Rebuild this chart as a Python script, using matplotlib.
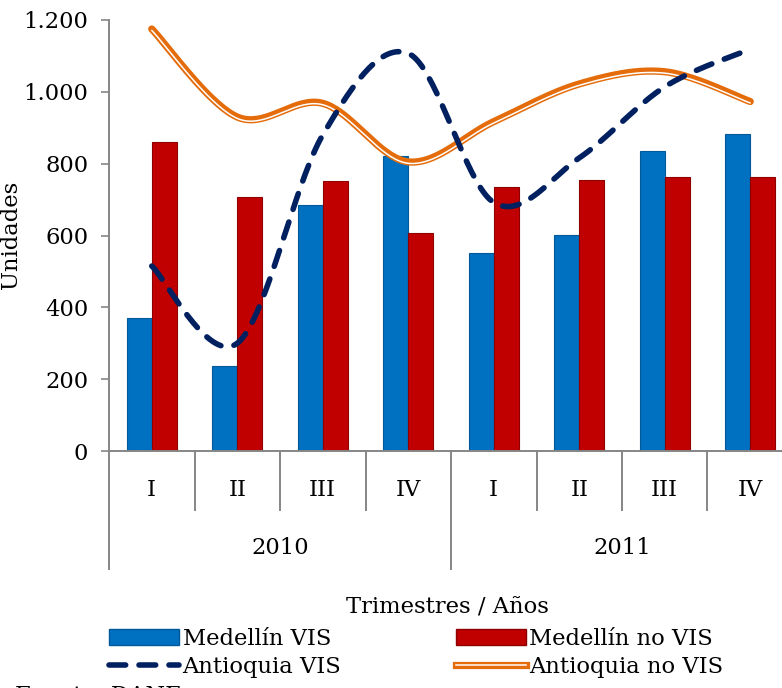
import numpy as np
import matplotlib
matplotlib.use("Agg")
import matplotlib.pyplot as plt
from matplotlib.lines import Line2D
from matplotlib.patches import Patch
from matplotlib.legend_handler import HandlerTuple
from matplotlib.ticker import FuncFormatter
import matplotlib.transforms as mtransforms

quarters = ["I", "II", "III", "IV", "I", "II", "III", "IV"]
years = ["2010", "2011"]
medellin_vis = [370, 237, 686, 822, 552, 602, 836, 882]
medellin_no_vis = [860, 708, 752, 608, 736, 754, 764, 764]
antioquia_vis = [515, 300, 880, 1107, 692, 816, 1014, 1119]
antioquia_no_vis = [1175, 930, 968, 805, 917, 1022, 1056, 973]

plt.rcParams['font.family'] = ['DejaVu Serif']
FS = 16.3

W, H = 782, 688
fig = plt.figure(figsize=(W / 100, H / 100), dpi=100)
left_px, right_px, bottom_px, top_px = 109, 793, 451, 20
ax = fig.add_axes([left_px / W, 1 - bottom_px / H, (right_px - left_px) / W, (bottom_px - top_px) / H])

x = np.arange(len(quarters))
bw = 0.29
blue = "#0070C0"
red = "#C00000"
ax.bar(x - bw / 2, medellin_vis, width=bw, color=blue, edgecolor="#005A9A", linewidth=0.8, zorder=2)
ax.bar(x + bw / 2, medellin_no_vis, width=bw, color=red, edgecolor="#8E0000", linewidth=0.8, zorder=2)


def smooth(xs, ys, n=40):
    P = np.column_stack([xs, ys]).astype(float)
    out = []
    m = len(P)
    for i in range(m - 1):
        p0 = P[i - 1] if i > 0 else P[i]
        p1 = P[i]
        p2 = P[i + 1]
        p3 = P[i + 2] if i + 2 < m else P[i + 1]
        c1 = p1 + (p2 - p0) / 6
        c2 = p2 - (p3 - p1) / 6
        t = np.linspace(0, 1, n)[:, None]
        seg = ((1 - t) ** 3) * p1 + 3 * ((1 - t) ** 2) * t * c1 + 3 * (1 - t) * t ** 2 * c2 + t ** 3 * p2
        out.append(seg if i == 0 else seg[1:])
    c = np.vstack(out)
    return c[:, 0], c[:, 1]


sx, sy = smooth(x, antioquia_no_vis)
orange = "#E46C0A"
ax.plot(sx, sy, color=orange, lw=5.2, solid_capstyle="round", zorder=3)
ax.plot(sx, sy - 4, color="white", lw=1.1, solid_capstyle="round", zorder=4)

vx, vy = smooth(x, antioquia_vis)
navy = "#002060"
ax.plot(vx, vy, color=navy, lw=4.0, dashes=(3.0, 2.4), dash_capstyle="round", zorder=5)

ax.set_xlim(-0.5, 7.5)
ax.set_ylim(0, 1200)
ax.set_yticks(np.arange(0, 1201, 200))
ax.yaxis.set_major_formatter(FuncFormatter(lambda v, p: f"{int(v):,}".replace(",", ".")))
ax.tick_params(axis="y", direction="out", length=6, width=1.2, color="#868686", labelsize=FS, pad=9)
ax.set_xticks([])
for s in ["top", "right"]:
    ax.spines[s].set_visible(False)
for s in ["left", "bottom"]:
    ax.spines[s].set_color("#868686")
    ax.spines[s].set_linewidth(1.4)
ax.set_ylabel("Unidades", fontsize=FS)
ax.yaxis.set_label_coords((22 - left_px) / (right_px - left_px), (bottom_px - 235) / (bottom_px - top_px))

# multilevel category axis
trans = mtransforms.blended_transform_factory(ax.transData, ax.transAxes)
h_ax = bottom_px - top_px
q_tick = -(510 - bottom_px) / h_ax
y_tick = -(569 - bottom_px) / h_ax
for k in range(len(quarters) + 1):
    bx = k - 0.5
    yend = y_tick if k % 4 == 0 else q_tick
    ax.add_line(Line2D([bx, bx], [0, yend], transform=trans, color="#868686", lw=1.4, clip_on=False))
for i, q in enumerate(quarters):
    ax.text(i, -(490 - bottom_px) / h_ax, q, transform=trans, ha="center", va="center", fontsize=FS)
for j, yr in enumerate(years):
    ax.text(j * 4 + 1.5, -(548 - bottom_px) / h_ax, yr, transform=trans, ha="center", va="center", fontsize=FS)

fig.text(447 / W, 1 - 607 / H, "Trimestres / Años", ha="center", va="center", fontsize=FS)

h_mv = Patch(facecolor=blue, edgecolor="#005A9A")
h_mn = Patch(facecolor=red, edgecolor="#8E0000")
h_av = Line2D([], [], color=navy, lw=4.0, dashes=(3.0, 2.4), dash_capstyle="round")
h_an = (Line2D([], [], color=orange, lw=5.2), Line2D([], [], color="white", lw=1.1))
leg = fig.legend([h_mv, h_av, h_mn, h_an],
                 ["Medellín VIS", "Antioquia VIS", "Medellín no VIS", "Antioquia no VIS"],
                 ncol=2, loc="center left", bbox_to_anchor=(109 / W, 1 - 653 / H),
                 frameon=False, fontsize=FS, handlelength=3.1, handletextpad=0.15,
                 columnspacing=5.05, labelspacing=0.3, borderpad=0, borderaxespad=0,
                 handler_map={tuple: HandlerTuple(ndivide=1)})

fig.text(15 / W, 1 - 685 / H, "Fuente: DANE", ha="left", va="top", fontsize=FS)

fig.savefig("out.png", dpi=100)
